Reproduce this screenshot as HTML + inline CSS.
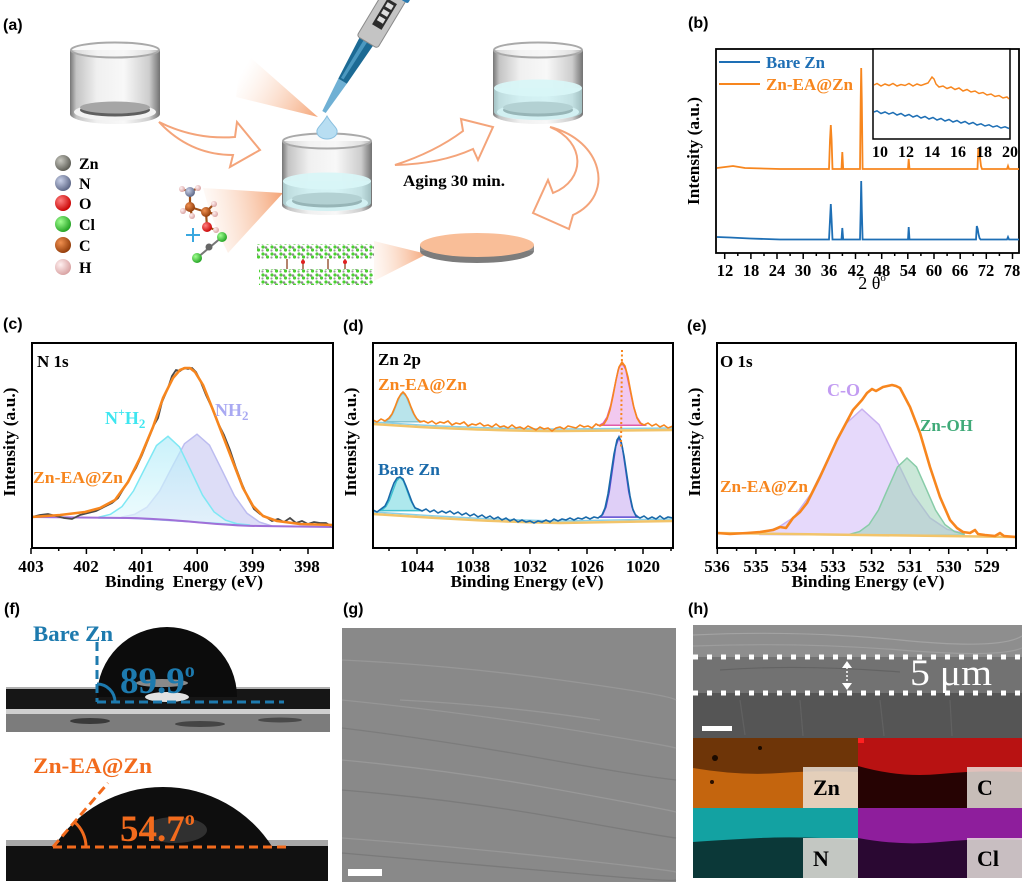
<!DOCTYPE html>
<html><head><meta charset="utf-8">
<style>
html,body{margin:0;padding:0;background:#fff;}
svg{display:block;}
.pl{font-family:"Liberation Sans",Arial,sans-serif;font-weight:bold;font-size:16px;fill:#000;}
.sb{font-family:"Liberation Serif","Times New Roman",serif;font-weight:bold;}
.sr{font-family:"Liberation Serif","Times New Roman",serif;}
</style></head><body>
<svg width="1024" height="886" viewBox="0 0 1024 886" xmlns="http://www.w3.org/2000/svg">
<defs>
 <linearGradient id="bodyG" x1="0" y1="0" x2="1" y2="0">
  <stop offset="0" stop-color="#767676"/><stop offset="0.07" stop-color="#c4c4c4"/>
  <stop offset="0.3" stop-color="#f0f0f0"/><stop offset="0.6" stop-color="#f8f8f8"/>
  <stop offset="0.88" stop-color="#cdcdcd"/><stop offset="1" stop-color="#727272"/>
 </linearGradient>
 <radialGradient id="aZn" cx="0.35" cy="0.35" r="0.7"><stop offset="0" stop-color="#c8c8c0"/><stop offset="1" stop-color="#5a5a52"/></radialGradient>
 <radialGradient id="aN" cx="0.35" cy="0.35" r="0.7"><stop offset="0" stop-color="#c8d0e8"/><stop offset="1" stop-color="#5a6484"/></radialGradient>
 <radialGradient id="aO" cx="0.35" cy="0.35" r="0.7"><stop offset="0" stop-color="#ff8080"/><stop offset="1" stop-color="#c80000"/></radialGradient>
 <radialGradient id="aCl" cx="0.35" cy="0.35" r="0.7"><stop offset="0" stop-color="#a0ff90"/><stop offset="1" stop-color="#20a020"/></radialGradient>
 <radialGradient id="aC" cx="0.35" cy="0.35" r="0.7"><stop offset="0" stop-color="#f09050"/><stop offset="1" stop-color="#903a08"/></radialGradient>
 <radialGradient id="aH" cx="0.35" cy="0.35" r="0.7"><stop offset="0" stop-color="#fff0f0"/><stop offset="1" stop-color="#d8a0a0"/></radialGradient>
 <linearGradient id="cone1" gradientUnits="userSpaceOnUse" x1="318" y1="117" x2="242" y2="72">
  <stop offset="0" stop-color="#f4a070" stop-opacity="0.95"/><stop offset="1" stop-color="#fbd8c2" stop-opacity="0"/></linearGradient>
 <linearGradient id="cone2" gradientUnits="userSpaceOnUse" x1="283" y1="200" x2="200" y2="215">
  <stop offset="0" stop-color="#f4a070" stop-opacity="0.95"/><stop offset="1" stop-color="#fbd8c2" stop-opacity="0.05"/></linearGradient>
 <linearGradient id="cone3" gradientUnits="userSpaceOnUse" x1="374" y1="260" x2="427" y2="255">
  <stop offset="0" stop-color="#fbd8c2" stop-opacity="0.2"/><stop offset="1" stop-color="#f4a070" stop-opacity="0.95"/></linearGradient>
 <pattern id="mol" width="9" height="7" patternUnits="userSpaceOnUse">
  <circle cx="2" cy="2" r="1.6" fill="#4ad030"/><circle cx="6.5" cy="5" r="1.6" fill="#4ad030"/>
  <circle cx="5" cy="2.5" r="1.3" fill="#8a8a8a"/><circle cx="1.5" cy="5.5" r="1.1" fill="#9a9a9a"/>
 </pattern>
 <g id="bk">
  <rect x="0" y="8" width="90" height="64" fill="url(#bodyG)"/>
  <ellipse cx="45" cy="72" rx="45" ry="10" fill="url(#bodyG)"/>
  <ellipse cx="45" cy="70" rx="41" ry="8.5" fill="#f3f3f3"/>
  <ellipse cx="45" cy="68" rx="35" ry="6.5" fill="#5f5f5f"/>
  <ellipse cx="45" cy="65.5" rx="35" ry="6" fill="#a6a6a6"/>
 </g>
 <g id="rim">
  <ellipse cx="45" cy="8" rx="44" ry="7.5" fill="#f5f5f5" fill-opacity="0.5" stroke="#a9a9a9" stroke-width="2"/>
 </g>
 <linearGradient id="cyF" x1="0" y1="0" x2="0" y2="1"><stop offset="0" stop-color="#aeeaf8"/><stop offset="1" stop-color="#e6fbfd"/></linearGradient>
</defs>

<!-- ================= PANEL (a) ================= -->
<text class="pl" x="3" y="30">(a)</text>
<polygon points="318,117 242,50 236,97" fill="url(#cone1)"/>
<path d="M283,193 L203,188 Q212,222 228,253 Z" fill="url(#cone2)"/>
<path d="M374,241 L427,254 L374,281 Z" fill="url(#cone3)"/>

<use href="#bk" transform="translate(70,42)"/>
<use href="#rim" transform="translate(70,42)"/>
<use href="#bk" transform="translate(282,133)"/>
<path d="M1,48 L1,70 A44,8 0 0 0 89,70 L89,48 Z" transform="translate(282,133)" fill="#bdeef2" opacity="0.6"/>
<ellipse cx="327" cy="181" rx="44" ry="8.5" fill="#d8f6f7" opacity="0.95"/>
<use href="#rim" transform="translate(282,133)"/>
<use href="#bk" transform="translate(493,42)"/>
<path d="M1,46 L1,70 A44,8 0 0 0 89,70 L89,46 Z" transform="translate(493,42)" fill="#bdeef2" opacity="0.6"/>
<ellipse cx="538" cy="88" rx="44" ry="8.5" fill="#d8f6f7" opacity="0.95"/>
<use href="#rim" transform="translate(493,42)"/>

<!-- pipette -->
<g transform="translate(324,112) rotate(31)">
 <path d="M-2,0 L2,0 L5,-36 L-5,-36 Z" fill="#6fb0d4"/>
 <path d="M-5,-36 L5,-36 L8,-84 L-8,-84 Z" fill="#1c6a94"/>
 <path d="M-3,-38 L0,-38 L1,-82 L-3,-82 Z" fill="#4b98c0"/>
 <rect x="-11" y="-140" width="24" height="58" rx="3" fill="#c4c4c4" stroke="#8a8a8a" stroke-width="1"/>
 <rect x="-4" y="-130" width="11" height="30" fill="#2c2c2c"/>
 <rect x="-2" y="-127" width="7" height="5" fill="#ddd"/><rect x="-2" y="-119" width="7" height="5" fill="#ddd"/><rect x="-2" y="-111" width="7" height="5" fill="#ddd"/>
 <rect x="8" y="-150" width="8" height="14" rx="2" fill="#2a7ab0"/>
</g>
<path d="M327,116 C322,125 316,128 317,132 A10,7 0 0 0 337,132 C338,128 332,125 327,116 Z" fill="#b8def2" stroke="#8ac0e0" stroke-width="1"/>

<path d="M159,122 Q195,140 235,137 L237,122 L260,150 L230,167 L233,155 Q190,155 159,122 Z" fill="#fff" stroke="#f4a47a" stroke-width="2"/>
<path d="M395,165 Q435,152 463,131 L461,119 L493,127 L478,160 L473,149 Q440,164 395,165 Z" fill="#fff" stroke="#f4a47a" stroke-width="2"/>
<path d="M550,127 C602,140 616,195 573,215 L569,229 L533,213 L548,180 L553,193 C586,180 586,142 550,127 Z" fill="#fff" stroke="#f4a47a" stroke-width="2"/>
<text class="sb" x="403" y="186" font-size="15.5" textLength="102" lengthAdjust="spacingAndGlyphs">Aging 30 min.</text>

<circle cx="63" cy="163" r="8" fill="url(#aZn)"/>
<circle cx="63" cy="183" r="8" fill="url(#aN)"/>
<circle cx="63" cy="203" r="8" fill="url(#aO)"/>
<circle cx="63" cy="224" r="8" fill="url(#aCl)"/>
<circle cx="63" cy="245" r="8" fill="url(#aC)"/>
<circle cx="63" cy="267" r="8" fill="url(#aH)"/>
<g class="sb" font-size="16">
<text x="79" y="169">Zn</text><text x="79" y="189">N</text><text x="79" y="209">O</text>
<text x="79" y="230">Cl</text><text x="79" y="251">C</text><text x="79" y="273">H</text>
</g>

<g stroke="#a05018" stroke-width="2.2">
 <line x1="190" y1="192" x2="190" y2="207"/><line x1="190" y1="207" x2="206" y2="212"/>
 <line x1="206" y1="212" x2="207" y2="227"/><line x1="190" y1="192" x2="182" y2="189"/>
 <line x1="190" y1="192" x2="198" y2="188"/><line x1="190" y1="207" x2="183" y2="211"/>
 <line x1="190" y1="207" x2="192" y2="216"/><line x1="206" y1="212" x2="214" y2="204"/>
 <line x1="206" y1="212" x2="215" y2="214"/><line x1="207" y1="227" x2="216" y2="230"/>
</g>
<circle cx="182" cy="189" r="3" fill="url(#aH)"/><circle cx="198" cy="188" r="3" fill="url(#aH)"/>
<circle cx="183" cy="211" r="3" fill="url(#aH)"/><circle cx="192" cy="216" r="3" fill="url(#aH)"/>
<circle cx="214" cy="204" r="3" fill="url(#aH)"/><circle cx="215" cy="214" r="3" fill="url(#aH)"/>
<circle cx="216" cy="230" r="3" fill="url(#aH)"/>
<circle cx="190" cy="192" r="5" fill="url(#aN)"/>
<circle cx="190" cy="207" r="5" fill="url(#aC)"/>
<circle cx="206" cy="212" r="5" fill="url(#aC)"/>
<circle cx="207" cy="227" r="5" fill="url(#aO)"/>
<line x1="186" y1="235" x2="200" y2="235" stroke="#3aa8e0" stroke-width="2"/>
<line x1="193" y1="228" x2="193" y2="242" stroke="#3aa8e0" stroke-width="2"/>
<line x1="222" y1="237" x2="197" y2="258" stroke="#777" stroke-width="2"/>
<circle cx="222" cy="237" r="5" fill="url(#aCl)"/>
<circle cx="209" cy="247" r="3.5" fill="#666"/>
<circle cx="197" cy="258" r="5" fill="url(#aCl)"/>

<rect x="257" y="244" width="117" height="15" fill="url(#mol)"/>
<rect x="259" y="269" width="114" height="16" fill="url(#mol)"/>
<g stroke="#9a5a3a" stroke-width="1.5">
 <line x1="287" y1="259" x2="287" y2="269"/><line x1="303" y1="259" x2="303" y2="269"/>
 <line x1="328" y1="259" x2="328" y2="269"/><line x1="345" y1="259" x2="345" y2="269"/>
</g>
<circle cx="303" cy="262" r="2" fill="#e02020"/><circle cx="345" cy="262" r="2" fill="#e02020"/>

<ellipse cx="477" cy="251" rx="57" ry="12" fill="#7c7c7c"/>
<rect x="420" y="245" width="114" height="6" fill="#8c8c8c"/>
<ellipse cx="477" cy="245" rx="57" ry="12" fill="#f9be98"/>

<!-- ================= PANEL (b) ================= -->
<text class="pl" x="688" y="28">(b)</text>
<rect x="716" y="49" width="303" height="204" fill="none" stroke="#000" stroke-width="1.8"/>
<g stroke="#000" stroke-width="1.5">
 <line x1="724.7" y1="253" x2="724.7" y2="259"/><line x1="750.9" y1="253" x2="750.9" y2="259"/>
 <line x1="777" y1="253" x2="777" y2="259"/><line x1="803.2" y1="253" x2="803.2" y2="259"/>
 <line x1="829.4" y1="253" x2="829.4" y2="259"/><line x1="855.5" y1="253" x2="855.5" y2="259"/>
 <line x1="881.7" y1="253" x2="881.7" y2="259"/><line x1="907.8" y1="253" x2="907.8" y2="259"/>
 <line x1="934" y1="253" x2="934" y2="259"/><line x1="960.2" y1="253" x2="960.2" y2="259"/>
 <line x1="986.3" y1="253" x2="986.3" y2="259"/><line x1="1012.5" y1="253" x2="1012.5" y2="259"/>
 <line x1="737.8" y1="253" x2="737.8" y2="256"/><line x1="764" y1="253" x2="764" y2="256"/>
 <line x1="790.1" y1="253" x2="790.1" y2="256"/><line x1="816.3" y1="253" x2="816.3" y2="256"/>
 <line x1="842.4" y1="253" x2="842.4" y2="256"/><line x1="868.6" y1="253" x2="868.6" y2="256"/>
 <line x1="894.7" y1="253" x2="894.7" y2="256"/><line x1="920.9" y1="253" x2="920.9" y2="256"/>
 <line x1="947.1" y1="253" x2="947.1" y2="256"/><line x1="973.2" y1="253" x2="973.2" y2="256"/>
 <line x1="999.4" y1="253" x2="999.4" y2="256"/>
</g>
<g class="sb" font-size="16.5" text-anchor="middle">
 <text x="725" y="276">12</text><text x="751" y="276">18</text><text x="777" y="276">24</text>
 <text x="803" y="276">30</text><text x="829" y="276">36</text><text x="856" y="276">42</text>
 <text x="882" y="276">48</text><text x="908" y="276">54</text><text x="934" y="276">60</text>
 <text x="960" y="276">66</text><text x="986" y="276">72</text><text x="1012" y="276">78</text>
</g>
<text class="sr" x="872" y="289" font-size="18" text-anchor="middle">2 θ<tspan font-size="11" dy="-8">o</tspan></text>
<text class="sb" font-size="16.5" text-anchor="middle" transform="translate(699,151) rotate(-90)" textLength="108" lengthAdjust="spacingAndGlyphs">Intensity (a.u.)</text>
<line x1="719" y1="62" x2="760" y2="62" stroke="#1e6fb5" stroke-width="2"/>
<line x1="719" y1="84" x2="760" y2="84" stroke="#f7861e" stroke-width="2"/>
<text class="sb" x="766" y="68" font-size="16.5" fill="#1e6fb5" textLength="59" lengthAdjust="spacingAndGlyphs">Bare Zn</text>
<text class="sb" x="766" y="90" font-size="16.5" fill="#f7861e" textLength="87" lengthAdjust="spacingAndGlyphs">Zn-EA@Zn</text>
<path d="M717,168 L725,167 L733,166 L745,168 L780,169 L829,169 L830,140 L830.8,125 L831.6,140 L832.5,169 L841.5,169 L842.3,152 L843.2,169 L860,169 L860.7,100 L861.2,68 L861.8,100 L862.6,169 L908,169 L908.7,159 L909.5,169 L977.5,169 L978.3,148 L979.2,152 L980,158 L981,166 L982,169 L1007,169 L1008,166 L1009,169 L1019,169" fill="none" stroke="#f7861e" stroke-width="1.8"/>
<path d="M717,237 L730,237.5 L750,238.5 L780,239.5 L829,239.5 L830,220 L830.8,204 L831.6,220 L832.5,239.5 L841.5,239.5 L842.3,228 L843.2,239.5 L860,239.5 L860.7,210 L861.2,181 L861.8,210 L862.6,239.5 L908,239.5 L908.7,227 L909.5,239.5 L976,239.5 L976.8,226 L977.7,229 L978.5,234 L979.5,238 L980.5,239.5 L1007,239.5 L1008,237 L1009,239.5 L1019,239.5" fill="none" stroke="#1e6fb5" stroke-width="1.8"/>
<rect x="873" y="49" width="137" height="90" fill="#fff" stroke="#000" stroke-width="1.5"/>
<polyline points="874,85 877,83.5 881,86 885,84 889,85.5 893,83.5 897,86 901,84.5 905,85.5 909,83.5 913,86 917,84 921,85.5 925,84 928,83 930,80 932,77 934,79 936,84 939,87 943,86 947,88.5 951,87 955,89.5 959,88 963,91 967,89.5 971,92 975,91 979,93.5 983,92.5 987,95 991,94 995,96.5 999,95.5 1003,98 1007,97 1009,99" fill="none" stroke="#f7861e" stroke-width="1.5"/>
<polyline points="874,112 877,110.8 881,113.5 885,112 889,114 893,112.5 897,115 901,113.5 905,116 909,114.5 913,117 917,115.5 921,118 925,116.5 929,119 933,117.5 937,120 941,118.5 945,121 949,119.5 953,122 957,120.5 961,123 965,121.5 969,124 973,122.5 977,125 981,123.8 985,126 989,124.8 993,127 997,125.8 1001,128 1005,126.8 1009,128.5" fill="none" stroke="#1e6fb5" stroke-width="1.5"/>
<g class="sb" font-size="16" text-anchor="middle">
 <text x="880" y="157">10</text><text x="906" y="157">12</text><text x="932" y="157">14</text>
 <text x="958" y="157">16</text><text x="984" y="157">18</text><text x="1010" y="157">20</text>
</g>

<!-- ================= PANEL (c) ================= -->
<text class="pl" x="3" y="329">(c)</text>
<path d="M122,517 L134.5,514.4 L147,507.2 L159.5,491.2 L172,467.2 L184.5,443.7 L197,434.2 L209.5,445.2 L222,470.3 L234.5,495.9 L247,513.3 L259.5,522.1 L272,526 L259.5,526 L197,522.2 L147,519.1 L122,518 Z" fill="#d2d2f4" fill-opacity="0.75" stroke="#bcbcf0" stroke-width="1.5"/>
<path d="M99,517.1 L110.5,514.3 L122,506.6 L133.5,490.9 L145,468.1 L156.5,445.5 L168,436.3 L179.5,446.9 L191,470.8 L202.5,495.1 L214,511.8 L225.5,520.2 L237,523.7 L250,525 L237,524.6 L168,520.3 L133.5,518.2 L99,518 Z" fill="url(#cyF)" fill-opacity="0.65" stroke="#7ee8f4" stroke-width="1.5"/>
<path d="M32,517 L130,518 C180,519 220,526 260,526 L333,527" fill="none" stroke="#a070d8" stroke-width="2"/>
<polyline points="32,517 40,515 48,514 56,516 64,518 72,519 80,515 88,513 96,511 104,507 112,503 118,498 124,488 130,478 136,468 142,455 148,440 154,425 158,418 162,402 168,388 172,376 176,370 180,371 184,368 188,369 192,368 196,372 200,380 206,395 212,408 218,423 224,435 230,450 236,468 242,484 248,498 254,509 260,514 266,517 272,521 278,519 284,522 290,518 296,523 302,521 308,524 314,522 320,523 326,523 331,526" fill="none" stroke="#4a4a4a" stroke-width="1.8"/>
<polyline points="32,517 60,515 85,512 100,508 115,500 128,482 140,458 153,427 163,398 173,378 180,370 185,368 190,368 195,372 203,385 213,410 223,436 233,462 243,488 253,506 263,516 277,521 300,524 333,525" fill="none" stroke="#f7861e" stroke-width="2.6" stroke-linejoin="round"/>
<rect x="32" y="343" width="301" height="205" fill="none" stroke="#000" stroke-width="2"/>
<g stroke="#000" stroke-width="1.5">
 <line x1="31" y1="548" x2="31" y2="554"/><line x1="86.4" y1="548" x2="86.4" y2="554"/>
 <line x1="141.8" y1="548" x2="141.8" y2="554"/><line x1="197.2" y1="548" x2="197.2" y2="554"/>
 <line x1="252.6" y1="548" x2="252.6" y2="554"/><line x1="308" y1="548" x2="308" y2="554"/>
 <line x1="58.7" y1="548" x2="58.7" y2="551"/><line x1="114.1" y1="548" x2="114.1" y2="551"/>
 <line x1="169.5" y1="548" x2="169.5" y2="551"/><line x1="224.9" y1="548" x2="224.9" y2="551"/>
 <line x1="280.3" y1="548" x2="280.3" y2="551"/>
</g>
<g class="sb" font-size="17" text-anchor="middle">
 <text x="31" y="572">403</text><text x="86" y="572">402</text><text x="141" y="572">401</text>
 <text x="196" y="572">400</text><text x="252" y="572">399</text><text x="307" y="572">398</text>
</g>
<text class="sb" x="184" y="587" font-size="17" text-anchor="middle" textLength="158" lengthAdjust="spacingAndGlyphs" xml:space="preserve">Binding  Energy (eV)</text>
<text class="sb" font-size="17" text-anchor="middle" transform="translate(15,442) rotate(-90)" textLength="109" lengthAdjust="spacingAndGlyphs">Intensity (a.u.)</text>
<text class="sb" x="37" y="367" font-size="17">N 1s</text>
<text class="sb" x="105" y="424" font-size="18" fill="#3ee6f0">N<tspan font-size="12" dy="-8">+</tspan><tspan dy="8">H</tspan><tspan font-size="13" dy="4">2</tspan></text>
<text class="sb" x="215" y="416" font-size="18" fill="#a9a9f2">NH<tspan font-size="13" dy="4">2</tspan></text>
<text class="sb" x="33" y="483" font-size="17" fill="#f7861e" textLength="90" lengthAdjust="spacingAndGlyphs">Zn-EA@Zn</text>

<!-- ================= PANEL (d) ================= -->
<text class="pl" x="343" y="331">(d)</text>
<path d="M383.5,421.7 L386.75,420.7 L390,418.1 L393.25,412.6 L396.5,404.4 L399.75,396.4 L403,393 L406.25,396.4 L409.5,404.4 L412.75,412.6 L416,418.1 L419.25,420.7 L422.5,421.7 Z" fill="#a8dde6" fill-opacity="0.8" stroke="#88c4d0" stroke-width="1.5"/>
<path d="M599.5,425.3 L603.25,423.2 L607,417.3 L610.75,405.2 L614.5,387.2 L618.25,369.5 L622,362 L625.75,369.5 L629.5,387.2 L633.25,405.2 L637,417.3 L640.75,423.2 L644.5,425.3 Z" fill="#f0c0ec" fill-opacity="0.85" stroke="#e05aa8" stroke-width="1.5"/>
<path d="M379,510.6 L382.5,509.5 L386,506.4 L389.5,500 L393,490.4 L396.5,481 L400,477 L403.5,481 L407,490.4 L410.5,500 L414,506.4 L417.5,509.5 L421,510.6 Z" fill="#a0e4ea" fill-opacity="0.85" stroke="#3ec0d0" stroke-width="1.5"/>
<path d="M599.5,517.1 L602.75,514.4 L606,507 L609.25,491.7 L612.5,468.9 L615.75,446.5 L619,437 L622.25,446.5 L625.5,468.9 L628.75,491.7 L632,507 L635.25,514.4 L638.5,517.1 Z" fill="#dccaf6" fill-opacity="0.9" stroke="#5a4ad0" stroke-width="1.5"/>
<path d="M373,422 L420,425 Q500,429 560,429 L673,428" fill="none" stroke="#8ad0e8" stroke-width="1.5"/>
<path d="M373,424 L420,427 Q500,431 560,431 L673,430" fill="none" stroke="#f2c46a" stroke-width="2.5"/>
<path d="M373,512 L420,515 Q500,520 560,521 L673,519" fill="none" stroke="#8ad0e8" stroke-width="1.5"/>
<path d="M373,514 L420,517 Q500,522 560,523 L673,521" fill="none" stroke="#f2c46a" stroke-width="2.5"/>
<polyline points="373,420 377,422 381,419 385,421 389,418 392,414 395,407 398,399 401,394 403,392 405,394 408,399 411,407 414,414 417,419 420,422 424,421 428,423 432,421 436,424 440,422 444,423 448,421 452,425 456,423 460,424 464,422 468,426 472,424 476,425 480,423 484,426 488,425 492,427 496,424 500,427 504,426 508,428 512,425 516,428 520,427 524,429 528,426 532,428 536,430 540,427 544,429 548,428 552,431 556,428 560,427 564,429 568,426 572,427 576,428 580,425 584,427 588,426 592,428 596,424 600,426 604,424 607,419 610,410 613,396 616,380 619,367 622,362 625,366 628,377 631,393 634,408 637,418 640,423 644,425 648,423 652,426 656,424 660,427 664,425 668,428 673,426" fill="none" stroke="#f7861e" stroke-width="1.6"/>
<polyline points="373,510 377,512 381,509 385,506 388,500 391,491 394,483 397,478 400,477 403,479 406,486 409,494 412,502 415,508 418,509 422,511 426,509 430,512 434,510 438,513 442,511 446,513 450,511 454,514 458,512 462,515 466,513 470,516 474,514 478,517 482,515 486,518 490,516 494,519 498,517 502,520 506,518 510,521 514,519 518,522 522,520 526,522 530,521 534,523 538,521 542,522 546,520 550,522 554,519 558,521 562,519 566,520 570,518 574,520 578,518 582,519 586,517 590,519 594,517 598,518 602,515 605,508 608,494 611,474 614,454 617,440 619,437 621,441 624,456 627,476 630,496 633,510 636,516 640,518 644,516 648,519 652,517 656,519 660,516 664,519 668,517 673,518" fill="none" stroke="#1a6aaa" stroke-width="1.6"/>
<line x1="622" y1="350" x2="621" y2="447" stroke="#f7861e" stroke-width="2" stroke-dasharray="2 2.5"/>
<rect x="373" y="343" width="300" height="205" fill="none" stroke="#000" stroke-width="2"/>
<g stroke="#000" stroke-width="1.5">
 <line x1="417" y1="548" x2="417" y2="554"/><line x1="473" y1="548" x2="473" y2="554"/>
 <line x1="530" y1="548" x2="530" y2="554"/><line x1="587" y1="548" x2="587" y2="554"/>
 <line x1="643" y1="548" x2="643" y2="554"/>
 <line x1="389" y1="548" x2="389" y2="551"/><line x1="445" y1="548" x2="445" y2="551"/>
 <line x1="501.5" y1="548" x2="501.5" y2="551"/><line x1="558.5" y1="548" x2="558.5" y2="551"/>
 <line x1="615" y1="548" x2="615" y2="551"/><line x1="671" y1="548" x2="671" y2="551"/>
</g>
<g class="sb" font-size="17" text-anchor="middle">
 <text x="417" y="572">1044</text><text x="473" y="572">1038</text><text x="530" y="572">1032</text>
 <text x="587" y="572">1026</text><text x="643" y="572">1020</text>
</g>
<text class="sb" x="527" y="587" font-size="17" text-anchor="middle" textLength="153" lengthAdjust="spacingAndGlyphs">Binding Energy (eV)</text>
<text class="sb" font-size="17" text-anchor="middle" transform="translate(356,442) rotate(-90)" textLength="109" lengthAdjust="spacingAndGlyphs">Intensity (a.u.)</text>
<text class="sb" x="378" y="365" font-size="17">Zn 2p</text>
<text class="sb" x="378" y="390" font-size="17" fill="#f7861e" textLength="89" lengthAdjust="spacingAndGlyphs">Zn-EA@Zn</text>
<text class="sb" x="378" y="475" font-size="17" fill="#1a6aaa" textLength="62" lengthAdjust="spacingAndGlyphs">Bare Zn</text>

<!-- ================= PANEL (e) ================= -->
<text class="pl" x="687" y="331">(e)</text>
<path d="M760,532.2 L777,528.3 L794,517.1 L811,493.7 L828,458.7 L845,424.4 L862,409.1 L879,424.6 L896,459.1 L913,494.3 L930,517.9 L947,529.3 L964,533.2 L964,535.5 L760,534.5 Z" fill="#e2d2fa" fill-opacity="0.85" stroke="#c8b0f0" stroke-width="1.5"/>
<path d="M850,534.2 L859.5,531.6 L869,524.6 L878.5,510 L888,488.3 L897.5,467 L907,458 L916.5,467 L926,488.3 L935.5,510 L945,524.6 L954.5,531.6 L964,534.2 L964,535.5 L850,535 Z" fill="#9fd4b8" fill-opacity="0.55" stroke="#88cca8" stroke-width="1.5"/>
<line x1="717" y1="533" x2="1016" y2="537" stroke="#f2c46a" stroke-width="2.5"/>
<polyline points="717,533 730,534 747,533 760,532 773,530 780,527 786,528 793,518 800,512 807,503 820,477 837,440 853,410 862,400 867,393 872,389 876,391 883,387 892,385 896,386 900,388 910,407 920,433 930,467 940,497 950,520 957,528 963,532 970,533 975,530 978,534 985,535 995,536 1000,533 1004,536 1016,537" fill="none" stroke="#f7861e" stroke-width="2.6" stroke-linejoin="round"/>
<rect x="717" y="343" width="299" height="205" fill="none" stroke="#000" stroke-width="2"/>
<g stroke="#000" stroke-width="1.5">
 <line x1="717.3" y1="548" x2="717.3" y2="554"/><line x1="755.9" y1="548" x2="755.9" y2="554"/>
 <line x1="794.4" y1="548" x2="794.4" y2="554"/><line x1="833" y1="548" x2="833" y2="554"/>
 <line x1="871.6" y1="548" x2="871.6" y2="554"/><line x1="910.2" y1="548" x2="910.2" y2="554"/>
 <line x1="948.7" y1="548" x2="948.7" y2="554"/><line x1="987.3" y1="548" x2="987.3" y2="554"/>
 <line x1="736.6" y1="548" x2="736.6" y2="551"/><line x1="775.2" y1="548" x2="775.2" y2="551"/>
 <line x1="813.7" y1="548" x2="813.7" y2="551"/><line x1="852.3" y1="548" x2="852.3" y2="551"/>
 <line x1="890.9" y1="548" x2="890.9" y2="551"/><line x1="929.5" y1="548" x2="929.5" y2="551"/>
 <line x1="968" y1="548" x2="968" y2="551"/><line x1="1006.6" y1="548" x2="1006.6" y2="551"/>
</g>
<g class="sb" font-size="17" text-anchor="middle">
 <text x="717" y="572">536</text><text x="756" y="572">535</text><text x="794" y="572">534</text>
 <text x="833" y="572">533</text><text x="872" y="572">532</text><text x="910" y="572">531</text>
 <text x="949" y="572">530</text><text x="987" y="572">529</text>
</g>
<text class="sb" x="868" y="587" font-size="17" text-anchor="middle" textLength="153" lengthAdjust="spacingAndGlyphs">Binding Energy (eV)</text>
<text class="sb" font-size="17" text-anchor="middle" transform="translate(700,442) rotate(-90)" textLength="109" lengthAdjust="spacingAndGlyphs">Intensity (a.u.)</text>
<text class="sb" x="720" y="367" font-size="17">O 1s</text>
<text class="sb" x="827" y="396" font-size="18" fill="#c29cf2">C-O</text>
<text class="sb" x="920" y="431" font-size="17" fill="#3faa78">Zn-OH</text>
<text class="sb" x="720" y="492" font-size="17" fill="#f7861e" textLength="88" lengthAdjust="spacingAndGlyphs">Zn-EA@Zn</text>

<!-- ================= PANEL (f) ================= -->
<text class="pl" x="4" y="614">(f)</text>
<rect x="6" y="687" width="324" height="3" fill="#b0b0b0"/>
<rect x="6" y="689" width="324" height="21" fill="#161616"/>
<rect x="6" y="709" width="324" height="5" fill="#cfcfcf"/>
<rect x="6" y="714" width="324" height="18" fill="#7c7c7c"/>
<ellipse cx="90" cy="721" rx="20" ry="3" fill="#3a3a3a"/>
<ellipse cx="200" cy="724" rx="25" ry="3" fill="#454545"/>
<ellipse cx="280" cy="720" rx="22" ry="2.5" fill="#4a4a4a"/>
<path d="M97,697 A70,70 0 0 1 237,697 Z" fill="#0c0c0c"/>
<ellipse cx="162" cy="683" rx="26" ry="4" fill="#8a8a8a"/>
<ellipse cx="167" cy="697" rx="22" ry="5" fill="#e2e2e2"/>
<g fill="none" stroke="#1d7aae" stroke-width="3" stroke-dasharray="9 5">
 <line x1="97" y1="642" x2="97" y2="702"/>
 <line x1="97" y1="702" x2="284" y2="702"/>
</g>
<path d="M97,684 A18,18 0 0 1 115,702" fill="none" stroke="#1d7aae" stroke-width="3"/>
<text class="sb" x="33" y="641" font-size="22" fill="#1d7aae" textLength="80" lengthAdjust="spacingAndGlyphs">Bare Zn</text>
<text class="sb" x="120" y="693" font-size="37" fill="#1d7aae">89.9<tspan font-size="20" dy="-16">o</tspan></text>
<rect x="6" y="840" width="322" height="8" fill="#a8a8a8"/>
<rect x="6" y="846" width="322" height="35" fill="#111"/>
<path d="M53,848 A129.7,129.7 0 0 1 273,848 Z" fill="#0e0e0e"/>
<ellipse cx="175" cy="830" rx="32" ry="13" fill="#3a3a3a" opacity="0.8"/>
<g fill="none" stroke="#f26b1d" stroke-width="3" stroke-dasharray="9 5">
 <line x1="53" y1="847" x2="108" y2="783"/>
 <line x1="53" y1="847" x2="288" y2="847"/>
</g>
<path d="M74.5,822 A33,33 0 0 1 86,847" fill="none" stroke="#f26b1d" stroke-width="3"/>
<text class="sb" x="33" y="773" font-size="22" fill="#f26b1d" textLength="119" lengthAdjust="spacingAndGlyphs">Zn-EA@Zn</text>
<text class="sb" x="120" y="841" font-size="37" fill="#f26b1d">54.7<tspan font-size="20" dy="-16">o</tspan></text>

<!-- ================= PANEL (g) ================= -->
<text class="pl" x="343" y="614">(g)</text>
<rect x="342" y="628" width="334" height="254" fill="#898989"/>
<g fill="none" stroke-width="1.3">
 <path d="M342,660 Q450,665 560,680 T676,700" stroke="#a0a0a0" opacity="0.6"/>
 <path d="M342,700 Q460,712 560,728 T676,748" stroke="#9e9e9e" opacity="0.6"/>
 <path d="M342,728 Q440,740 540,758 T676,780" stroke="#707070" opacity="0.5"/>
 <path d="M342,760 Q450,770 560,790 T676,812" stroke="#a2a2a2" opacity="0.6"/>
 <path d="M342,790 Q460,800 560,818 T676,838" stroke="#6e6e6e" opacity="0.5"/>
 <path d="M342,838 Q450,846 560,858 T676,872" stroke="#a0a0a0" opacity="0.6"/>
 <path d="M342,853 Q450,862 560,872 T676,880" stroke="#6c6c6c" opacity="0.5"/>
 <path d="M400,700 Q500,705 600,720" stroke="#a5a5a5" opacity="0.5"/>
</g>
<rect x="348" y="869" width="34" height="7" fill="#fff"/>

<!-- ================= PANEL (h) ================= -->
<text class="pl" x="688" y="614">(h)</text>
<rect x="693" y="625" width="329" height="32" fill="#8e8e8e"/>
<rect x="693" y="657" width="329" height="36" fill="#727272"/>
<rect x="693" y="693" width="329" height="45" fill="#555"/>
<g fill="none" stroke-width="1.2" opacity="0.6">
 <path d="M693,635 Q800,630 900,640 T1022,636" stroke="#b0b0b0"/>
 <path d="M693,646 Q800,642 900,650 T1022,648" stroke="#a8a8a8"/>
 <path d="M720,670 Q800,664 900,672" stroke="#5a5a5a"/>
 <path d="M740,700 L745,735 M800,700 L803,736 M880,700 L884,736 M950,700 L952,736" stroke="#6a6a6a"/>
</g>
<line x1="693" y1="657" x2="1022" y2="657" stroke="#fff" stroke-width="5" stroke-dasharray="5 9"/>
<line x1="693" y1="693" x2="1022" y2="693" stroke="#fff" stroke-width="5" stroke-dasharray="5 9"/>
<line x1="847" y1="667" x2="847" y2="684" stroke="#fff" stroke-width="1.5" stroke-dasharray="2 2"/>
<polygon points="847,661 842,668 852,668" fill="#fff"/>
<polygon points="847,690 842,683 852,683" fill="#fff"/>
<text class="sr" x="910" y="685" font-size="37" fill="#fff" textLength="82" lengthAdjust="spacingAndGlyphs">5 μm</text>
<rect x="702" y="726" width="30" height="5" fill="#fff"/>
<rect x="693" y="738" width="165" height="70" fill="#c4650e"/>
<path d="M693,738 L858,738 L858,772 Q820,770 780,773 T693,768 Z" fill="#6e3508"/>
<circle cx="715" cy="758" r="3" fill="#1a0a00"/><circle cx="760" cy="748" r="2" fill="#1a0a00"/><circle cx="712" cy="782" r="2" fill="#2a1000"/>
<rect x="858" y="738" width="164" height="70" fill="#260303"/>
<path d="M858,738 L1022,738 L1022,772 Q980,770 940,774 T858,766 Z" fill="#b81212"/>
<rect x="858" y="738" width="6" height="5" fill="#ff2020"/>
<rect x="693" y="808" width="165" height="70" fill="#0b3838"/>
<path d="M693,808 L858,808 L858,840 Q800,836 760,838 T693,842 Z" fill="#13a2a2"/>
<rect x="858" y="808" width="164" height="70" fill="#2a0832"/>
<path d="M858,808 L1022,808 L1022,840 Q980,838 940,842 T858,838 Z" fill="#8e1e9c"/>
<rect x="803" y="767" width="55" height="41" fill="#ece6e0" opacity="0.82"/>
<rect x="967" y="767" width="55" height="41" fill="#ece6e0" opacity="0.82"/>
<rect x="803" y="838" width="55" height="40" fill="#ece6e0" opacity="0.82"/>
<rect x="967" y="838" width="55" height="40" fill="#ece6e0" opacity="0.82"/>
<g class="sb" font-size="22" fill="#000">
 <text x="813" y="795">Zn</text><text x="977" y="795">C</text>
 <text x="813" y="866">N</text><text x="977" y="866">Cl</text>
</g>
</svg>
</body></html>
